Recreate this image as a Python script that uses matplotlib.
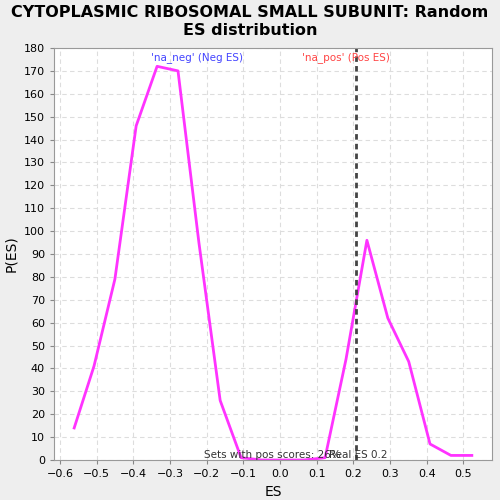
import numpy as np
import matplotlib
matplotlib.use('Agg')
import matplotlib.pyplot as plt

# Random ES distribution values
es = [-0.561, -0.507, -0.450, -0.392, -0.335, -0.278, -0.221, -0.163, -0.106,
      -0.049, 0.008, 0.065, 0.123, 0.180, 0.237, 0.294, 0.351, 0.409, 0.466, 0.523]
p_es = [14, 41, 79, 146, 172, 170, 95, 26, 1,
        0, 0, 0, 1, 44, 96, 62, 43, 7, 2, 2]
real_es = 0.207
pos_pct = 26

fig = plt.figure(figsize=(5, 5), dpi=100, facecolor='#eeeeee')
ax = fig.add_axes([0.108, 0.08, 0.876, 0.824])
ax.set_facecolor('white')

ax.plot(es, p_es, color='#ff33ff', lw=2)
ax.axvline(real_es, color='#444444', lw=2, ls=(0, (2, 1.5)))

ax.set_xlim(-0.616, 0.578)
ax.set_ylim(0, 180)
xt = np.round(np.arange(-0.6, 0.51, 0.1), 1)
ax.set_xticks(xt)
ax.set_xticklabels([('%.1f' % v).replace('-', '\u2212') if v != 0 else '0.0' for v in xt])
ax.set_yticks(range(0, 181, 10))
ax.tick_params(labelsize=8, length=3, color='#888888')
ax.grid(True, ls=(0, (4, 3)), color='#dddddd', lw=0.8)
for s in ax.spines.values():
    s.set_color('#999999')

ax.set_xlabel('ES', fontsize=10)
ax.set_ylabel('P(ES)', fontsize=10)
fig.suptitle('CYTOPLASMIC RIBOSOMAL SMALL SUBUNIT: Random\nES distribution',
             fontsize=11.5, fontweight='bold', y=0.99, linespacing=1.25)

ax.text(-0.225, 176, "'na_neg' (Neg ES)", color='#4444ff', fontsize=7.5, ha='center', va='center')
ax.text(0.18, 176, "'na_pos' (Pos ES)", color='#ff4444', fontsize=7.5, ha='center', va='center')
ax.text(0.165, 2, 'Sets with pos scores: %d%%' % pos_pct, color='#333333', fontsize=7.5, ha='right', va='center')
ax.text(0.135, 2, 'Real ES 0.2', color='#333333', fontsize=7.5, ha='left', va='center')

fig.savefig('out.png', dpi=100, facecolor=fig.get_facecolor())
